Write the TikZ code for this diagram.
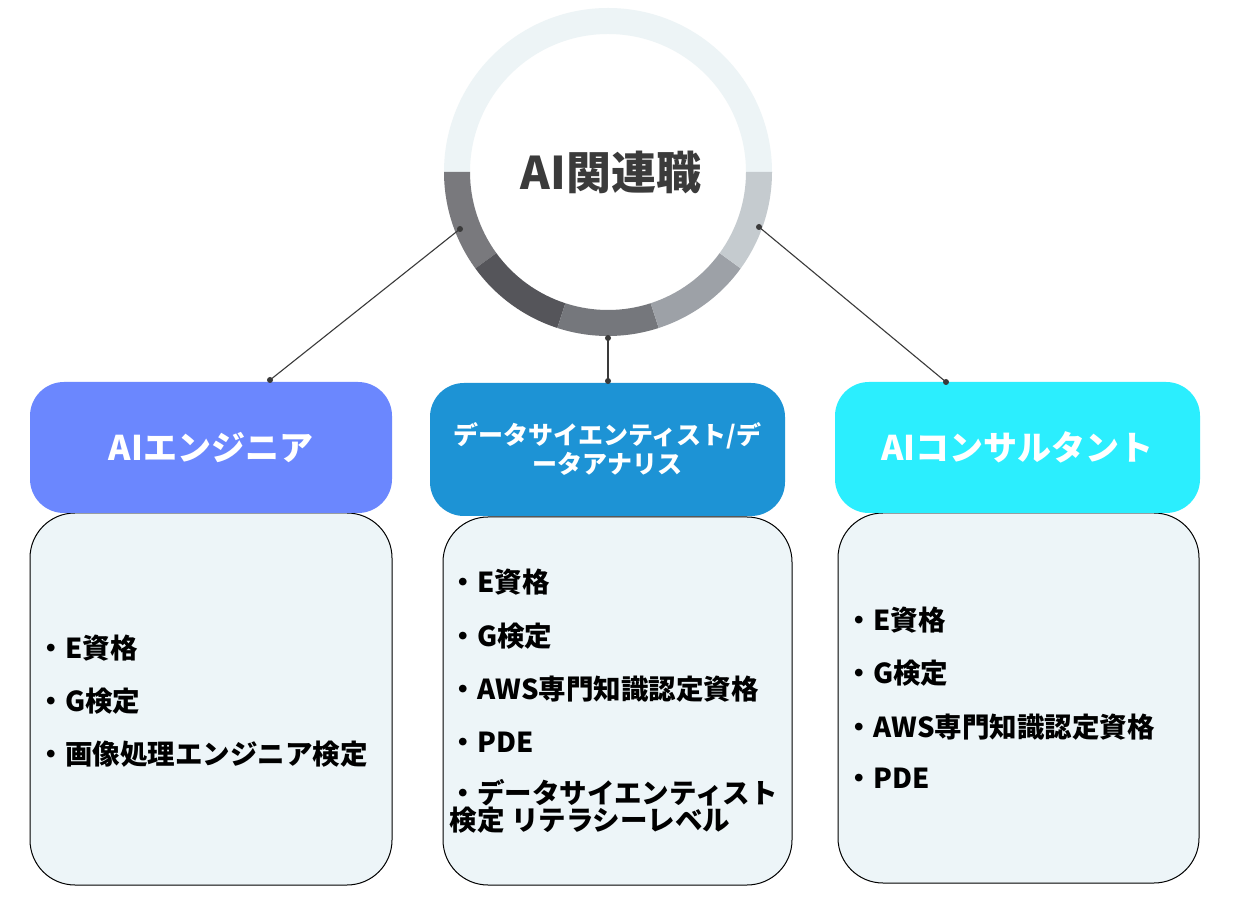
\documentclass[tikz,border=0pt]{standalone}
\usepackage{fontspec}
\newfontfamily\jp{Noto Sans CJK JP}
\usetikzlibrary{calc}
\definecolor{ringtop}{HTML}{EDF4F6}
\definecolor{segA}{HTML}{79797D}
\definecolor{segB}{HTML}{55555A}
\definecolor{segC}{HTML}{75777C}
\definecolor{segD}{HTML}{9DA1A7}
\definecolor{segE}{HTML}{C5CBCF}
\definecolor{hdrL}{HTML}{6B87FE}
\definecolor{hdrM}{HTML}{1D93D5}
\definecolor{hdrR}{HTML}{2BEEFE}
\definecolor{bodyfill}{HTML}{EDF5F8}
\definecolor{linkc}{HTML}{3A3A3A}
\definecolor{titlec}{HTML}{3B3B3B}
\begin{document}
\begin{tikzpicture}[x=1pt,y=1pt,
  hdr/.style={rectangle,rounded corners=34pt,text=white,align=center,inner sep=0pt,
    font=\jp\bfseries\fontsize{34}{36}\selectfont},
  bodybox/.style={rectangle,rounded corners=45pt,draw=black,line width=1pt,fill=bodyfill,inner sep=0pt},
  item/.style={anchor=west,inner sep=0pt,align=left,text=black,
    font=\jp\bfseries\fontsize{27.5}{27}\selectfont},
  link/.style={draw=linkc,line width=1.1pt},
  dot/.style={circle,fill=linkc,inner sep=0pt,minimum size=6pt}]
\useasboundingbox[fill=white] (0,0) rectangle (1252,916);

% ring
\coordinate (C) at (608,744);
\foreach \a/\b/\c in {0/180/ringtop,180/216/segA,216/252/segB,252/288/segC,288/324/segD,324/360/segE}{
  \fill[\c] ($(C)+(\a:164pt)$) arc[start angle=\a,end angle=\b,radius=164pt]
     -- ($(C)+(\b:138pt)$) arc[start angle=\b,end angle=\a,radius=138pt] -- cycle;
}
\node[font=\jp\bfseries\fontsize{45}{45}\selectfont,text=titlec] (title) at (611,744) {AI関連職};

% bodies
\node[bodybox,minimum width=362pt,minimum height=372pt] (bodyL) at (211,217) {};
\node[bodybox,minimum width=349pt,minimum height=368pt] (bodyM) at (617.5,215) {};
\node[bodybox,minimum width=361pt,minimum height=370pt] (bodyR) at (1018.5,218) {};

% headers
\node[hdr,fill=hdrL,minimum width=362pt,minimum height=131pt] (hL) at (211,468.5) {AIエンジニア};
\node[hdr,fill=hdrM,minimum width=355pt,minimum height=133pt,
      font=\jp\bfseries\fontsize{25}{29}\selectfont] (hM) at (607.5,466.5) {データサイエンティスト/デ\\ータアナリス};
\node[hdr,fill=hdrR,minimum width=365pt,minimum height=131pt] (hR) at (1017.5,468.5) {AIコンサルタント};

% connectors
\coordinate (dl) at (460,687);
\coordinate (dr) at (759,689);
\coordinate (db) at (608,578);
\coordinate (tl) at (270,536);
\coordinate (tm) at (608,535);
\coordinate (tr) at (946,534);
\draw[link] (dl) -- (tl);
\draw[link] (dr) -- (tr);
\draw[link] (db) -- (tm);
\foreach \p in {dl,dr,db,tl,tm,tr} \node[dot] at (\p) {};

% left list
\node[item] (l1) at (37.5,268) {・E資格};
\node[item] (l2) at (37.5,215) {・G検定};
\node[item] (l3) at (37.5,162) {・画像処理エンジニア検定};
% middle list
\node[item] (m1) at (449.5,334) {・E資格};
\node[item] (m2) at (449.5,280) {・G検定};
\node[item] (m3) at (449.5,227) {・AWS専門知識認定資格};
\node[item] (m4) at (449.5,174) {・PDE};
\node[item] (m5) at (449.5,109.5) {・データサイエンティスト\\検定 リテラシーレベル};
% right list
\node[item] (r1) at (845.5,296) {・E資格};
\node[item] (r2) at (845.5,243) {・G検定};
\node[item] (r3) at (845.5,189) {・AWS専門知識認定資格};
\node[item] (r4) at (845.5,138) {・PDE};
\end{tikzpicture}
\end{document}
